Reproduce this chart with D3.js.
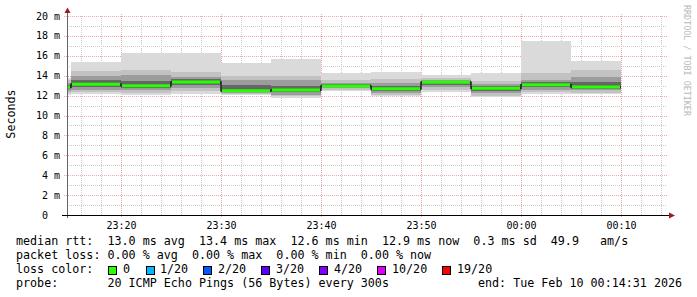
<!DOCTYPE html>
<html>
<head>
<meta charset="utf-8">
<script src="https://cdn.jsdelivr.net/npm/d3@7"></script>
<style>
	body { margin: 0; background: #fff; }
	svg { display: block; font-family: "DejaVu Sans Mono", monospace; }
	.legend text { white-space: pre; }
</style>
</head>
<body>
<svg id="chart" width="697" height="297"></svg>
<script>
// 5 minute buckets, the first one is cut by the left edge
const bucketStarts = ['23:10', '23:15', '23:20', '23:25', '23:30', '23:35', '23:40', '23:45', '23:50', '23:55', '00:00', '00:05'];
const bucketEnd = '00:10';

// ms values
const medianRtt = [12.85, 13.14, 13.0, 13.37, 12.49, 12.56, 12.96, 12.69, 13.34, 12.73, 13.1, 12.86];
const smokeMax = [13.8, 15.4, 16.3, 16.25, 15.25, 15.7, 14.25, 14.4, 14.1, 14.25, 17.5, 15.5];
const smokeHi90 = [13.6, 14.5, 14.6, 14.4, 13.95, 13.95, 13.6, 13.65, 13.75, 13.5, 14.25, 14.55];
const smokeHi75 = [13.3, 13.95, 14.1, 13.9, 13.6, 13.6, 13.3, 13.25, 13.6, 13.2, 13.6, 13.9];
const smokeHi60 = [13.05, 13.55, 13.45, 13.65, 13.05, 12.95, 13.15, 12.95, 13.5, 12.95, 13.4, 13.35];
const smokeLo40 = [12.7, 12.85, 12.75, 13.1, 12.35, 12.35, 12.85, 12.5, 13.1, 12.5, 12.85, 12.7];
const smokeLo25 = [12.5, 12.6, 12.55, 12.75, 12.25, 12.1, 12.75, 12.3, 12.9, 12.25, 12.6, 12.55];
const smokeLo10 = [12.3, 12.35, 12.3, 12.5, 12.15, 11.95, 12.6, 12.1, 12.6, 12.0, 12.4, 12.3];
const smokeMin = [12.1, 12.15, 12.05, 12.2, 12.05, 11.75, 12.5, 11.95, 12.4, 11.85, 12.2, 12.15];

const yTickValues = [0, 2, 4, 6, 8, 10, 12, 14, 16, 18, 20];

const lossLabels = ['0', '1/20', '2/20', '3/20', '4/20', '10/20', '19/20'];
const lossColors = ['#26ff00', '#00b8ff', '#0059ff', '#5e00ff', '#7e00ff', '#dd00ff', '#ff0000'];

const legendLines = [
	'median rtt:  13.0 ms avg  13.4 ms max  12.6 ms min  12.9 ms now  0.3 ms sd  49.9   am/s',
	'packet loss: 0.00 % avg  0.00 % max  0.00 % min  0.00 % now',
	'loss color:',
	'probe:       20 ICMP Echo Pings (56 Bytes) every 300s'
];
const endText = 'end: Tue Feb 10 00:14:31 2026';

const SmokeChart = {
	left: 67,
	right: 667,
	top: 16,
	bottom: 215,

	draw: function() {
		const self = this;
		let svg = d3.select('#chart');

		self.x = d3.scaleTime()
			.domain([ new Date(2026, 1, 9, 23, 14, 36), new Date(2026, 1, 10, 0, 14, 36) ])
			.range([ self.left, self.right ]);
		self.y = d3.scaleLinear()
			.domain([ 0, 20 ])
			.range([ self.bottom, self.top ]);

		self.drawGrid(svg);
		self.drawSmoke(svg);
		self.drawMedian(svg);
		self.drawAxes(svg);
		self.drawLegend(svg);
	},
	toDate: function(hhmm) {
		let [ h, m ] = hhmm.split(':').map(Number);
		return h >= 12 ? new Date(2026, 1, 9, h, m) : new Date(2026, 1, 10, h, m);
	},
	bucketX: function(i) {
		const self = this;
		let x0 = self.x(self.toDate(bucketStarts[i]));
		let x1 = self.x(self.toDate(i + 1 < bucketStarts.length ? bucketStarts[i + 1] : bucketEnd));
		return [ Math.max(x0, self.left), x1 ];
	},

	// draw

	drawGrid: function(svg) {
		const self = this;
		let g = svg.append('g').attr('class', 'grid');
		let minorTimes = self.x.ticks(d3.timeMinute.every(2));
		let majorTimes = self.x.ticks(d3.timeMinute.every(10));
		let minorValues = d3.range(1, 20, 1).filter(v => v % 2 != 0);

		g.selectAll('line.vminor')
			.data(minorTimes.filter(t => t.getMinutes() % 10 != 0))
			.enter().append('line')
			.attr('x1', d => Math.round(self.x(d)) + 0.5)
			.attr('x2', d => Math.round(self.x(d)) + 0.5)
			.attr('y1', self.top)
			.attr('y2', self.bottom)
			.style('stroke', '#c8c8c8')
			.style('stroke-dasharray', '1,1');

		g.selectAll('line.hminor')
			.data(minorValues)
			.enter().append('line')
			.attr('x1', self.left)
			.attr('x2', self.right)
			.attr('y1', d => Math.round(self.y(d)) + 0.5)
			.attr('y2', d => Math.round(self.y(d)) + 0.5)
			.style('stroke', '#c8c8c8')
			.style('stroke-dasharray', '1,1');

		g.selectAll('line.vmajor')
			.data(majorTimes)
			.enter().append('line')
			.attr('x1', d => Math.round(self.x(d)) + 0.5)
			.attr('x2', d => Math.round(self.x(d)) + 0.5)
			.attr('y1', self.top - 2)
			.attr('y2', self.bottom + 2)
			.style('stroke', '#f0a8a8')
			.style('stroke-dasharray', '1,1');

		g.selectAll('line.hmajor')
			.data(yTickValues.slice(1))
			.enter().append('line')
			.attr('x1', self.left - 3)
			.attr('x2', self.right + 1)
			.attr('y1', d => Math.round(self.y(d)) + 0.5)
			.attr('y2', d => Math.round(self.y(d)) + 0.5)
			.style('stroke', '#f0a8a8')
			.style('stroke-dasharray', '1,1');
	},
	drawSmoke: function(svg) {
		const self = this;
		let bands = [
			{ lo: smokeMin, hi: smokeMax, color: '#dadada' },
			{ lo: smokeLo10, hi: smokeHi90, color: '#c2c2c2' },
			{ lo: smokeLo25, hi: smokeHi75, color: '#9c9c9c' },
			{ lo: smokeLo40, hi: smokeHi60, color: '#666666' }
		];
		let g = svg.append('g').attr('class', 'smoke');

		bands.forEach(function(band) {
			g.selectAll(null)
				.data(d3.range(bucketStarts.length))
				.enter().append('rect')
				.attr('x', i => self.bucketX(i)[0])
				.attr('width', i => self.bucketX(i)[1] - self.bucketX(i)[0])
				.attr('y', i => self.y(band.hi[i]))
				.attr('height', i => self.y(band.lo[i]) - self.y(band.hi[i]))
				.style('fill', band.color)
				.style('shape-rendering', 'crispEdges');
		});
	},
	drawMedian: function(svg) {
		const self = this;
		let points = [];

		for (let i = 0; i < bucketStarts.length; i++) {
			let [ x0, x1 ] = self.bucketX(i);
			points.push([ x0, self.y(medianRtt[i]) ]);
			points.push([ x1, self.y(medianRtt[i]) ]);
		}

		svg.append('path')
			.attr('d', d3.line()(points))
			.style('fill', 'none')
			.style('stroke', '#202020')
			.style('stroke-width', 1.5);

		svg.append('g').selectAll('line')
			.data(d3.range(bucketStarts.length))
			.enter().append('line')
			.attr('x1', i => self.bucketX(i)[0] + 1)
			.attr('x2', i => self.bucketX(i)[1] - 1)
			.attr('y1', i => self.y(medianRtt[i]))
			.attr('y2', i => self.y(medianRtt[i]))
			.style('stroke', lossColors[0])
			.style('stroke-width', 3);
	},
	drawAxes: function(svg) {
		const self = this;
		let arrowColor = '#9b1c1c';

		// y labels
		svg.append('g').selectAll('text')
			.data(yTickValues)
			.enter().append('text')
			.attr('x', d => d == 0 ? 48 : 60)
			.attr('y', d => self.y(d) + 3.5)
			.attr('text-anchor', 'end')
			.style('font-size', '10px')
			.text(d => d == 0 ? '0' : d + ' m');

		// x labels
		svg.append('g').selectAll('text')
			.data(self.x.ticks(d3.timeMinute.every(10)))
			.enter().append('text')
			.attr('x', d => Math.round(self.x(d)) + 0.5)
			.attr('y', 229)
			.attr('text-anchor', 'middle')
			.style('font-size', '10px')
			.text(d => d3.timeFormat('%H:%M')(d));

		svg.append('line')
			.attr('x1', self.left + 0.5)
			.attr('x2', self.left + 0.5)
			.attr('y1', self.bottom + 3)
			.attr('y2', 10)
			.style('stroke', '#666');
		svg.append('line')
			.attr('x1', self.left - 5)
			.attr('x2', self.right + 3)
			.attr('y1', self.bottom + 0.5)
			.attr('y2', self.bottom + 0.5)
			.style('stroke', '#000');

		svg.append('path')
			.attr('d', 'M' + (self.left - 2.5) + ',13 L' + (self.left + 0.5) + ',7.5 L' + (self.left + 3.5) + ',13 Z')
			.style('fill', arrowColor);
		svg.append('path')
			.attr('d', 'M' + (self.right + 2) + ',' + (self.bottom - 2.5) + ' L' + (self.right + 8) + ',' + (self.bottom + 0.5) + ' L' + (self.right + 2) + ',' + (self.bottom + 3.5) + ' Z')
			.style('fill', arrowColor);

		svg.append('text')
			.attr('transform', 'translate(15,114) rotate(-90)')
			.attr('text-anchor', 'middle')
			.style('font-size', '11.7px')
			.text('Seconds');

		svg.append('text')
			.attr('transform', 'translate(684,5) rotate(90)')
			.attr('text-anchor', 'start')
			.style('font-size', '8.4px')
			.style('fill', '#b8b8b8')
			.text('RRDTOOL / TOBI OETIKER');
	},
	drawLegend: function(svg) {
		let g = svg.append('g').attr('class', 'legend');
		let baselines = [ 245, 259, 273, 287 ];
		let boxX = [ 108, 146, 203, 261, 319, 377, 442 ];
		let labelX = [ 123, 160, 218, 276, 334, 392, 457 ];

		g.selectAll('text.line')
			.data(legendLines)
			.enter().append('text')
			.attr('x', 16)
			.attr('y', (d, i) => baselines[i])
			.attr('xml:space', 'preserve')
			.style('font-size', '11.7px')
			.text(d => d);

		g.append('text')
			.attr('x', 478)
			.attr('y', baselines[3])
			.style('font-size', '11.7px')
			.text(endText);

		g.selectAll('rect')
			.data(lossColors)
			.enter().append('rect')
			.attr('x', (d, i) => boxX[i] + 0.5)
			.attr('y', 266.5)
			.attr('width', 8)
			.attr('height', 8)
			.style('fill', d => d)
			.style('stroke', '#000');

		g.selectAll('text.loss')
			.data(lossLabels)
			.enter().append('text')
			.attr('x', (d, i) => labelX[i])
			.attr('y', baselines[2])
			.style('font-size', '11.7px')
			.text(d => d);
	}
}

SmokeChart.draw();
</script>
</body>
</html>
